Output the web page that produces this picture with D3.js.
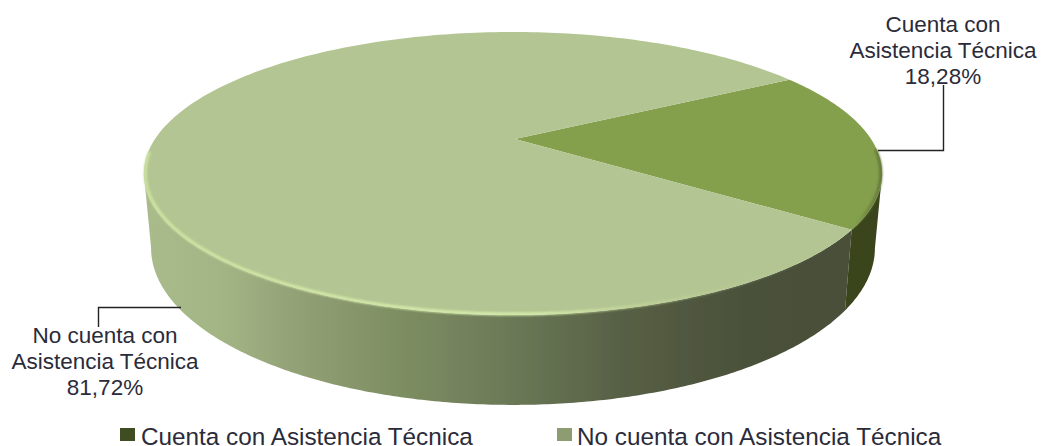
<!DOCTYPE html>
<html>
<head>
<meta charset="utf-8">
<script src="https://cdn.jsdelivr.net/npm/d3@7/dist/d3.min.js"></script>
<style>
  html, body { margin: 0; padding: 0; background: #fff; overflow: hidden; }
  svg { display: block; }
  text { font-family: "Liberation Sans", Arial, sans-serif; fill: #2b2b3a; }
</style>
</head>
<body>
<div id="chart"></div>
<script>
var categories = ["Cuenta con Asistencia Técnica", "No cuenta con Asistencia Técnica"];
var values = [18.28, 81.72];
var valueLabels = ["18,28%", "81,72%"];
var labelLines = [["Cuenta con", "Asistencia Técnica"], ["No cuenta con", "Asistencia Técnica"]];

var cfg = {
  w: 1041,
  h: 446,
  cx: 513,
  // circle -> screen, perspective on the depth axis
  top: { a: 358, ky: 99.2, y0: 139, c: -0.2438 },
  rim: { a: 356.6, ky: 98.5, y0: 139, c: -0.2438 },
  bottom: { a: 351, ky: 96.5, y0: 209.7, c: -0.2438 },
  faceColor: ["#84a04d", "#b3c592"],
  sideDark: "#3a441f"
};

var svg = d3.select("#chart").append("svg")
    .attr("width", cfg.w)
    .attr("height", cfg.h);

var defs = svg.append("defs");

function gradient(id, stops, x1, x2) {
  var g = defs.append("linearGradient").attr("id", id)
      .attr("gradientUnits", "userSpaceOnUse")
      .attr("x1", x1).attr("x2", x2).attr("y1", 0).attr("y2", 0);
  stops.forEach(function(s) {
    g.append("stop").attr("offset", s[0]).attr("stop-color", s[1]).attr("stop-opacity", s[2] === undefined ? 1 : s[2]);
  });
}

gradient("sideLight", [
  [0, "#a9bb8b"], [0.1, "#a3b585"], [0.22, "#919f74"], [0.35, "#7e8f63"],
  [0.5, "#6d7b58"], [0.68, "#565f44"], [0.85, "#4a513a"], [1, "#484f38"]
], 150, 850);
gradient("rimLight", [
  [0, "#cfe4a2"], [0.55, "#d8efae", 1], [0.72, "#c3d69a", 0.7], [1, "#b3c592", 0]
], 144, 848);
gradient("rimDark", [[0, "#84a04d", 0], [0.5, "#71873f"], [1, "#62743a"]], 850, 882);

var soft = defs.append("filter").attr("id", "soft")
    .attr("x", "-5%").attr("y", "-5%").attr("width", "110%").attr("height", "110%");
soft.append("feGaussianBlur").attr("stdDeviation", 1);

var edge = defs.append("filter").attr("id", "edge")
    .attr("x", "-5%").attr("y", "-5%").attr("width", "110%").attr("height", "110%");
edge.append("feGaussianBlur").attr("stdDeviation", 0.5);

// d3 pie angle (0 at the top, clockwise) to a point on one of the planes
function project(plane, angle) {
  var u = Math.sin(angle), v = -Math.cos(angle);
  var d = 1 + plane.c * v;
  return [cfg.cx + plane.a * u / d, (plane.ky * v + plane.y0) / d];
}

function arcPoints(plane, a0, a1) {
  return d3.range(0, 241).map(function(i) {
    return project(plane, a0 + (a1 - a0) * i / 240);
  });
}

var line = d3.line();

var start = 60 * Math.PI / 180;
var pie = d3.pie().sort(null).startAngle(start).endAngle(start + 2 * Math.PI);
var slices = pie(values);

// only the front of the wall shows, between the two widest points of the ellipse
var wallFrom = Math.acos(cfg.top.c);
var wallTo = 2 * Math.PI - wallFrom;

svg.append("g").attr("filter", "url(#edge)").selectAll("path")
    .data([slices[1], slices[0]])
  .enter().append("path")
    .attr("fill", function(d) { return d.index === 0 ? cfg.sideDark : "url(#sideLight)"; })
    .attr("d", function(d) {
      var a0 = Math.max(d.startAngle, wallFrom), a1 = Math.min(d.endAngle, wallTo);
      var t = arcPoints(cfg.top, a0, a1);
      var b = arcPoints(cfg.bottom, a1, a0);
      return line(t.concat(b)) + "Z";
    });

// top faces
var faces = svg.append("g").attr("filter", "url(#edge)");
faces.selectAll("path")
    .data(slices)
  .enter().append("path")
    .attr("fill", function(d) { return cfg.faceColor[d.index]; })
    .attr("d", function(d) {
      var apex = [cfg.cx + 2, cfg.top.y0];
      return line([apex].concat(arcPoints(cfg.top, d.startAngle, d.endAngle))) + "Z";
    });

// bevel along the front edge
var rim = svg.append("g").attr("filter", "url(#soft)").attr("fill", "none");
rim.append("path")
    .attr("stroke", "url(#rimLight)")
    .attr("stroke-width", 3)
    .attr("d", line(arcPoints(cfg.rim, slices[1].startAngle, slices[1].startAngle + 2.42)));
rim.append("path")
    .attr("stroke", "url(#rimDark)")
    .attr("stroke-width", 3)
    .attr("d", line(arcPoints(cfg.rim, slices[0].startAngle + 0.6, slices[0].endAngle)));

// leader lines
var leaders = [
  [[878, 150.5], [943.5, 150.5], [943.5, 85]],
  [[181, 307.5], [98.5, 307.5], [98.5, 327]]
];
svg.append("g").selectAll("path")
    .data(leaders)
  .enter().append("path")
    .attr("fill", "none")
    .attr("stroke", "#222")
    .attr("stroke-width", 1.4)
    .attr("d", function(d) { return line(d); });

// data labels
var labelPos = [[943, 32], [105, 343]];
var labels = svg.append("g").selectAll("text")
    .data(categories)
  .enter().append("text")
    .attr("text-anchor", "middle")
    .attr("font-size", 22.5);

labels.each(function(d, i) {
  var rows = labelLines[i].concat([valueLabels[i]]);
  d3.select(this).selectAll("tspan")
      .data(rows)
    .enter().append("tspan")
      .attr("x", labelPos[i][0])
      .attr("y", function(r, j) { return labelPos[i][1] + j * 25.8; })
      .text(function(r) { return r; });
});

// legend
gradient("keyDark", [[0, "#3f4d22"], [0.5, "#84a04d"], [1, "#4a5a28"]], 120, 135);
gradient("keyLight", [[0, "#8e9c72"], [0.5, "#b3c592"], [1, "#8f9f74"]], 557, 572);

var legendX = [120, 557];
var legend = svg.append("g").selectAll("g")
    .data(categories)
  .enter().append("g")
    .attr("transform", function(d, i) { return "translate(" + legendX[i] + ",428)"; });

legend.append("rect")
    .attr("width", 15)
    .attr("height", 13)
    .attr("filter", "url(#edge)")
    .attr("fill", function(d, i) { return i === 0 ? "url(#keyDark)" : "url(#keyLight)"; });

legend.append("text")
    .attr("x", function(d, i) { return i === 0 ? 21 : 20; })
    .attr("y", 16.5)
    .attr("font-size", 24.3)
    .text(function(d) { return d; });
</script>
</body>
</html>
